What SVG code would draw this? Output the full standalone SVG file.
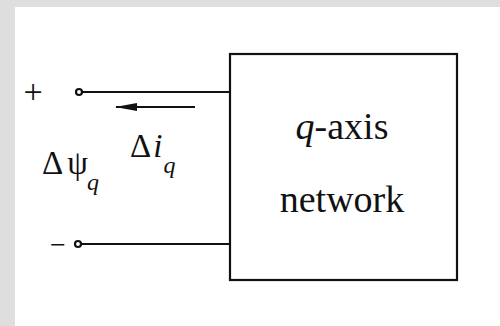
<svg xmlns="http://www.w3.org/2000/svg" width="500" height="326" viewBox="0 0 500 326">
<defs>
<style>
.w{stroke:#111;stroke-width:2.2;fill:none}
.t{font-family:"Liberation Serif","Times New Roman",serif;fill:#111}
</style>
<marker id="ah" viewBox="0 0 22 10" refX="21" refY="5" markerWidth="22" markerHeight="10" orient="auto" markerUnits="userSpaceOnUse">
<path d="M0,1 L22,5 L0,9 Z" fill="#111"/>
</marker>
</defs>
<rect x="0" y="0" width="500" height="326" fill="#dedede"/>
<rect x="15" y="7" width="485" height="319" fill="#fff"/>
<g id="network">
<rect class="w" x="230" y="54" width="227" height="226"/>
<text class="t" x="342" y="139" font-size="38" text-anchor="middle"><tspan font-style="italic">q</tspan>-axis</text>
<text class="t" x="342" y="212" font-size="38" text-anchor="middle">network</text>
</g>
<g id="terminals">
<circle class="w" cx="79" cy="92" r="3" stroke-width="1.5"/>
<circle class="w" cx="78" cy="244" r="3" stroke-width="1.5"/>
<text class="t" x="33" y="103" font-size="34" text-anchor="middle">+</text>
<text class="t" x="58" y="254" font-size="28" text-anchor="middle">−</text>
</g>
<g id="connectors">
<line class="w" x1="82" y1="92" x2="230" y2="92"/>
<line class="w" x1="81" y1="244" x2="230" y2="244"/>
<line class="w" x1="195" y1="107" x2="116" y2="107" marker-end="url(#ah)"/>
</g>
<g id="labels">
<text class="t" x="130" y="157" font-size="33">Δ<tspan font-style="italic" dx="2">i</tspan><tspan font-style="italic" font-size="24" dy="16" dx="1">q</tspan></text>
<text class="t" x="42" y="174" font-size="33">Δ<tspan dx="4">ψ</tspan><tspan font-style="italic" font-size="24" dy="16" dx="-1">q</tspan></text>
</g>
</svg>
